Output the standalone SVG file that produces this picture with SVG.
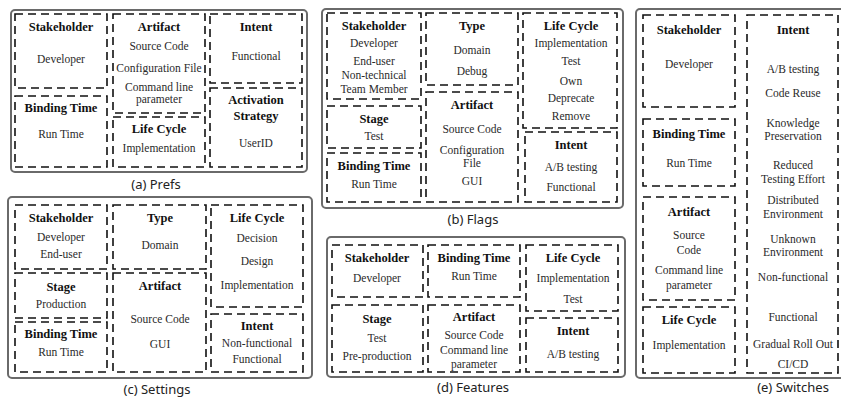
<svg xmlns="http://www.w3.org/2000/svg" width="841" height="399" viewBox="0 0 841 399">
<style>
.panel{fill:#fff;stroke:#6a6a6a;stroke-width:2}
.d{fill:none;stroke:#111;stroke-width:1.6;stroke-dasharray:8 5}
text{text-anchor:middle}
.h{font-family:'Liberation Serif','DejaVu Serif',serif;font-size:12.5px;font-weight:bold;fill:#111}
.t{font-family:'Liberation Serif','DejaVu Serif',serif;font-size:11.5px;fill:#2a2a2a}
.cap{font-family:'Noto Sans','Open Sans',sans-serif;font-size:13px;fill:#222}
</style>
<rect width="841" height="399" fill="#fff"/>

<!-- (a) Prefs -->
<g id="panel-a">
<rect class="panel" x="11" y="10" width="296" height="162" rx="4"/>
<g id="a-stakeholder"><rect class="d" x="15" y="14" width="92" height="74"/>
<text class="h" x="61" y="31">Stakeholder</text><text class="t" x="61" y="63">Developer</text></g>
<g id="a-binding"><rect class="d" x="15" y="96" width="92" height="71"/>
<text class="h" x="61" y="112">Binding Time</text><text class="t" x="61" y="138">Run Time</text></g>
<g id="a-artifact"><rect class="d" x="113" y="14" width="92" height="99"/>
<text class="h" x="159" y="31">Artifact</text><text class="t" x="159" y="50">Source Code</text><text class="t" x="159" y="72">Configuration File</text><text class="t" x="159" y="91">Command line</text><text class="t" x="159" y="103">parameter</text></g>
<g id="a-lifecycle"><rect class="d" x="113" y="117" width="92" height="50"/>
<text class="h" x="159" y="133">Life Cycle</text><text class="t" x="159" y="152">Implementation</text></g>
<g id="a-intent"><rect class="d" x="210" y="14" width="92" height="69"/>
<text class="h" x="256" y="31">Intent</text><text class="t" x="256" y="60">Functional</text></g>
<g id="a-activation"><rect class="d" x="210" y="88" width="92" height="79"/>
<text class="h" x="256" y="104">Activation</text><text class="h" x="256" y="120">Strategy</text><text class="t" x="256" y="147">UserID</text></g>
<text class="cap" x="156" y="189">(a) Prefs</text>
</g>

<!-- (b) Flags -->
<g id="panel-b">
<rect class="panel" x="322" y="9" width="301" height="199" rx="4"/>
<g id="b-stakeholder"><rect class="d" x="327" y="13" width="94" height="86"/>
<text class="h" x="374" y="30">Stakeholder</text><text class="t" x="374" y="47">Developer</text><text class="t" x="374" y="65">End-user</text><text class="t" x="374" y="79">Non-technical</text><text class="t" x="374" y="93">Team Member</text></g>
<g id="b-stage"><rect class="d" x="327" y="106" width="94" height="42"/>
<text class="h" x="374" y="123">Stage</text><text class="t" x="374" y="140">Test</text></g>
<g id="b-binding"><rect class="d" x="327" y="153" width="94" height="49"/>
<text class="h" x="374" y="170">Binding Time</text><text class="t" x="374" y="188">Run Time</text></g>
<g id="b-type"><rect class="d" x="426" y="13" width="92" height="72"/>
<text class="h" x="472" y="30">Type</text><text class="t" x="472" y="54">Domain</text><text class="t" x="472" y="75">Debug</text></g>
<g id="b-artifact"><rect class="d" x="426" y="92" width="92" height="110"/>
<text class="h" x="472" y="109">Artifact</text><text class="t" x="472" y="133">Source Code</text><text class="t" x="472" y="154">Configuration</text><text class="t" x="472" y="167">File</text><text class="t" x="472" y="185">GUI</text></g>
<g id="b-lifecycle"><rect class="d" x="523" y="13" width="94" height="115"/>
<text class="h" x="571" y="30">Life Cycle</text><text class="t" x="571" y="47">Implementation</text><text class="t" x="571" y="65">Test</text><text class="t" x="571" y="85">Own</text><text class="t" x="571" y="102">Deprecate</text><text class="t" x="571" y="120">Remove</text></g>
<g id="b-intent"><rect class="d" x="525" y="132" width="92" height="70"/>
<text class="h" x="571" y="149">Intent</text><text class="t" x="571" y="171">A/B testing</text><text class="t" x="571" y="191">Functional</text></g>
<text class="cap" x="473" y="224">(b) Flags</text>
</g>

<!-- (c) Settings -->
<g id="panel-c">
<rect class="panel" x="8" y="197" width="304" height="181" rx="4"/>
<g id="c-stakeholder"><rect class="d" x="15" y="205" width="92" height="64"/>
<text class="h" x="61" y="222">Stakeholder</text><text class="t" x="61" y="241">Developer</text><text class="t" x="61" y="258">End-user</text></g>
<g id="c-stage"><rect class="d" x="15" y="273" width="92" height="45"/>
<text class="h" x="61" y="291">Stage</text><text class="t" x="61" y="308">Production</text></g>
<g id="c-binding"><rect class="d" x="15" y="322" width="92" height="50"/>
<text class="h" x="61" y="338">Binding Time</text><text class="t" x="61" y="356">Run Time</text></g>
<g id="c-type"><rect class="d" x="113" y="205" width="93" height="64"/>
<text class="h" x="160" y="222">Type</text><text class="t" x="160" y="249">Domain</text></g>
<g id="c-artifact"><rect class="d" x="113" y="273" width="93" height="99"/>
<text class="h" x="160" y="290">Artifact</text><text class="t" x="160" y="323">Source Code</text><text class="t" x="160" y="348">GUI</text></g>
<g id="c-lifecycle"><rect class="d" x="211" y="205" width="92" height="102"/>
<text class="h" x="257" y="222">Life Cycle</text><text class="t" x="257" y="242">Decision</text><text class="t" x="257" y="265">Design</text><text class="t" x="257" y="289">Implementation</text></g>
<g id="c-intent"><rect class="d" x="211" y="314" width="92" height="58"/>
<text class="h" x="257" y="330">Intent</text><text class="t" x="257" y="347">Non-functional</text><text class="t" x="257" y="363">Functional</text></g>
<text class="cap" x="157" y="394">(c) Settings</text>
</g>

<!-- (d) Features -->
<g id="panel-d">
<rect class="panel" x="327" y="237" width="298" height="140" rx="4"/>
<g id="d-stakeholder"><rect class="d" x="332" y="245" width="91" height="52"/>
<text class="h" x="377" y="262">Stakeholder</text><text class="t" x="377" y="282">Developer</text></g>
<g id="d-stage"><rect class="d" x="332" y="305" width="91" height="67"/>
<text class="h" x="377" y="323">Stage</text><text class="t" x="377" y="342">Test</text><text class="t" x="377" y="360">Pre-production</text></g>
<g id="d-binding"><rect class="d" x="428" y="245" width="92" height="52"/>
<text class="h" x="474" y="262">Binding Time</text><text class="t" x="474" y="280">Run Time</text></g>
<g id="d-artifact"><rect class="d" x="428" y="305" width="92" height="67"/>
<text class="h" x="474" y="321">Artifact</text><text class="t" x="474" y="339">Source Code</text><text class="t" x="474" y="354">Command line</text><text class="t" x="474" y="368">parameter</text></g>
<g id="d-lifecycle"><rect class="d" x="526" y="245" width="92" height="66"/>
<text class="h" x="573" y="262">Life Cycle</text><text class="t" x="573" y="282">Implementation</text><text class="t" x="573" y="303">Test</text></g>
<g id="d-intent"><rect class="d" x="526" y="318" width="92" height="54"/>
<text class="h" x="573" y="335">Intent</text><text class="t" x="573" y="358">A/B testing</text></g>
<text class="cap" x="473" y="392">(d) Features</text>
</g>

<!-- (e) Switches -->
<g id="panel-e">
<rect class="panel" x="636" y="9" width="212" height="369" rx="4"/>
<g id="e-stakeholder"><rect class="d" x="643" y="15" width="92" height="92"/>
<text class="h" x="689" y="34">Stakeholder</text><text class="t" x="689" y="68">Developer</text></g>
<g id="e-binding"><rect class="d" x="643" y="119" width="92" height="67"/>
<text class="h" x="689" y="138">Binding Time</text><text class="t" x="689" y="167">Run Time</text></g>
<g id="e-artifact"><rect class="d" x="643" y="197" width="92" height="103"/>
<text class="h" x="689" y="216">Artifact</text><text class="t" x="689" y="239">Source</text><text class="t" x="689" y="254">Code</text><text class="t" x="689" y="274">Command line</text><text class="t" x="689" y="289">parameter</text></g>
<g id="e-lifecycle"><rect class="d" x="643" y="307" width="92" height="66"/>
<text class="h" x="689" y="324">Life Cycle</text><text class="t" x="689" y="349">Implementation</text></g>
<g id="e-intent"><rect class="d" x="747" y="15" width="91" height="358"/>
<text class="h" x="793" y="34">Intent</text><text class="t" x="793" y="73">A/B testing</text><text class="t" x="793" y="97">Code Reuse</text><text class="t" x="793" y="127">Knowledge</text><text class="t" x="793" y="140">Preservation</text><text class="t" x="793" y="169">Reduced</text><text class="t" x="793" y="183">Testing Effort</text><text class="t" x="793" y="204">Distributed</text><text class="t" x="793" y="218">Environment</text><text class="t" x="793" y="243">Unknown</text><text class="t" x="793" y="256">Environment</text><text class="t" x="793" y="281">Non-functional</text><text class="t" x="793" y="321">Functional</text><text class="t" x="793" y="348">Gradual Roll Out</text><text class="t" x="793" y="368">CI/CD</text></g>
<text class="cap" x="793" y="392">(e) Switches</text>
</g>
</svg>
